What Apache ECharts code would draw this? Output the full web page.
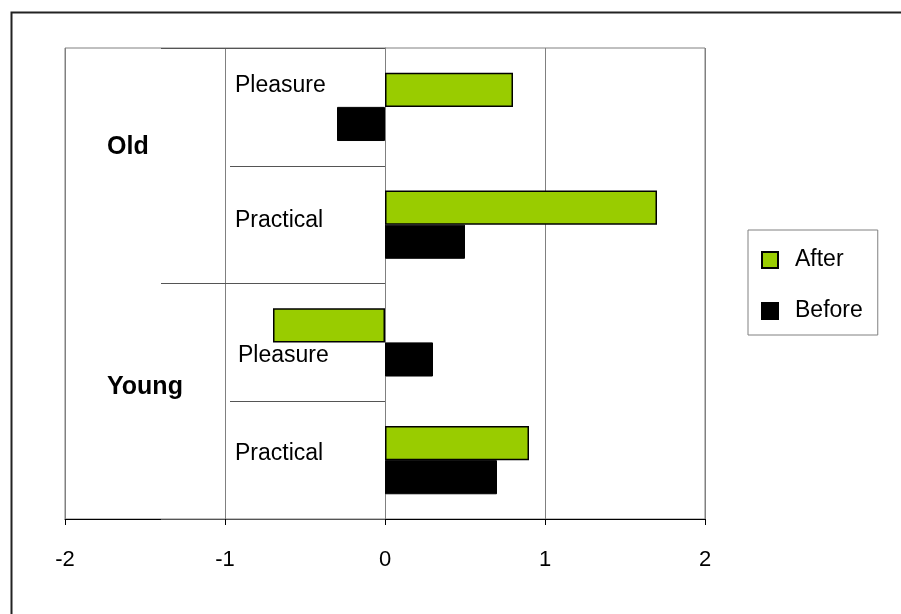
<!DOCTYPE html>
<html>
<head>
<meta charset="utf-8">
<script src="https://cdn.jsdelivr.net/npm/echarts@6/dist/echarts.min.js"></script>
<style>
html,body{margin:0;padding:0;background:#fff;}
#chart{width:901px;height:614px;}
</style>
</head>
<body>
<div id="chart"></div>
<script>
const categories = ['Old Pleasure', 'Old Practical', 'Young Pleasure', 'Young Practical'];
const subLabels = ['Pleasure', 'Practical', 'Pleasure', 'Practical'];
const groups = ['Old', 'Young'];
const seriesNames = ['After', 'Before'];
const afterValues = [0.8, 1.7, -0.7, 0.9];
const beforeValues = [-0.3, 0.5, 0.3, 0.7];
const xMin = -2, xMax = 2, xStep = 1;

const FONT = '"Liberation Sans", Arial, sans-serif';
const chart = echarts.init(document.getElementById('chart'));

const GRID_LEFT = 65, GRID_RIGHT = 196;
const plotWidth = 901 - GRID_LEFT - GRID_RIGHT;
// shift category axes to the zero of the value axis
const zeroOffset = -plotWidth * (0 - xMin) / (xMax - xMin);

const subRich = {
  p0: { fontSize: 23, fontFamily: FONT, color: '#000', padding: [0, 0, 42, 0] },
  p1: { fontSize: 23, fontFamily: FONT, color: '#000', padding: [0, 0, 8, 0] },
  p2: { fontSize: 23, fontFamily: FONT, color: '#000', padding: [26, 0, 0, 3] },
  p3: { fontSize: 23, fontFamily: FONT, color: '#000', padding: [0, 0, 12, 0] }
};
const groupRich = {
  g0: { fontSize: 25, fontWeight: 'bold', fontFamily: FONT, color: '#000', padding: [0, 0, 38, 0] },
  g1: { fontSize: 25, fontWeight: 'bold', fontFamily: FONT, color: '#000', padding: [0, 0, 28, 0] }
};

chart.setOption({
  animation: false,
  backgroundColor: '#fff',
  graphic: [{
    type: 'rect',
    left: 9, top: 10,
    shape: { width: 1000, height: 1000 },
    style: { fill: 'none', stroke: '#222', lineWidth: 2 },
    silent: true
  }],
  grid: {
    left: GRID_LEFT, right: GRID_RIGHT, top: 48, bottom: 95,
    containLabel: false,
    outerBoundsMode: 'none',
    show: true, borderColor: '#808080', borderWidth: 1, backgroundColor: 'transparent'
  },
  legend: {
    orient: 'vertical',
    left: 748, top: 230,
    padding: [18, 15, 12, 13],
    itemWidth: 16, itemHeight: 16, itemGap: 27,
    borderColor: '#808080', borderWidth: 1,
    icon: 'rect',
    selectedMode: false,
    data: seriesNames,
    textStyle: { fontSize: 23, fontFamily: FONT, color: '#000', lineHeight: 24, padding: [0, 0, 0, 12] }
  },
  xAxis: {
    type: 'value',
    min: xMin, max: xMax, interval: xStep,
    position: 'bottom',
    axisLine: { show: true, onZero: false, lineStyle: { color: '#000', width: 1 } },
    axisTick: { show: true, length: 6, lineStyle: { color: '#000' } },
    axisLabel: { fontSize: 22, fontFamily: FONT, color: '#000', margin: 30 },
    splitLine: { show: true, lineStyle: { color: '#808080', width: 1 } }
  },
  yAxis: [{
    type: 'category',
    data: categories,
    inverse: true,
    position: 'left',
    offset: zeroOffset,
    axisLine: { show: true, onZero: false, lineStyle: { color: '#808080' } },
    axisTick: { show: true, inside: false, length: 155, lineStyle: { color: '#555' } },
    axisLabel: {
      show: true, align: 'left', margin: 150,
      formatter: function (v, i) { return '{p' + i + '|' + subLabels[i] + '}'; },
      rich: subRich
    },
    splitLine: { show: false }
  }, {
    type: 'category',
    data: groups,
    inverse: true,
    position: 'left',
    offset: zeroOffset,
    axisLine: { show: false, onZero: false },
    axisTick: { show: true, inside: false, length: 224, lineStyle: { color: '#555' } },
    axisLabel: {
      show: true, align: 'left', margin: 278,
      formatter: function (v, i) { return '{g' + i + '|' + groups[i] + '}'; },
      rich: groupRich
    },
    splitLine: { show: false }
  }],
  series: [{
    name: seriesNames[0],
    type: 'bar',
    yAxisIndex: 0,
    data: afterValues,
    barGap: '0%',
    barCategoryGap: '42%',
    itemStyle: { color: '#99CC00', borderColor: '#000', borderWidth: 1.5 }
  }, {
    name: seriesNames[1],
    type: 'bar',
    yAxisIndex: 0,
    data: beforeValues,
    barGap: '0%',
    barCategoryGap: '42%',
    itemStyle: { color: '#000', borderColor: '#000', borderWidth: 1 }
  }]
});
</script>
</body>
</html>
